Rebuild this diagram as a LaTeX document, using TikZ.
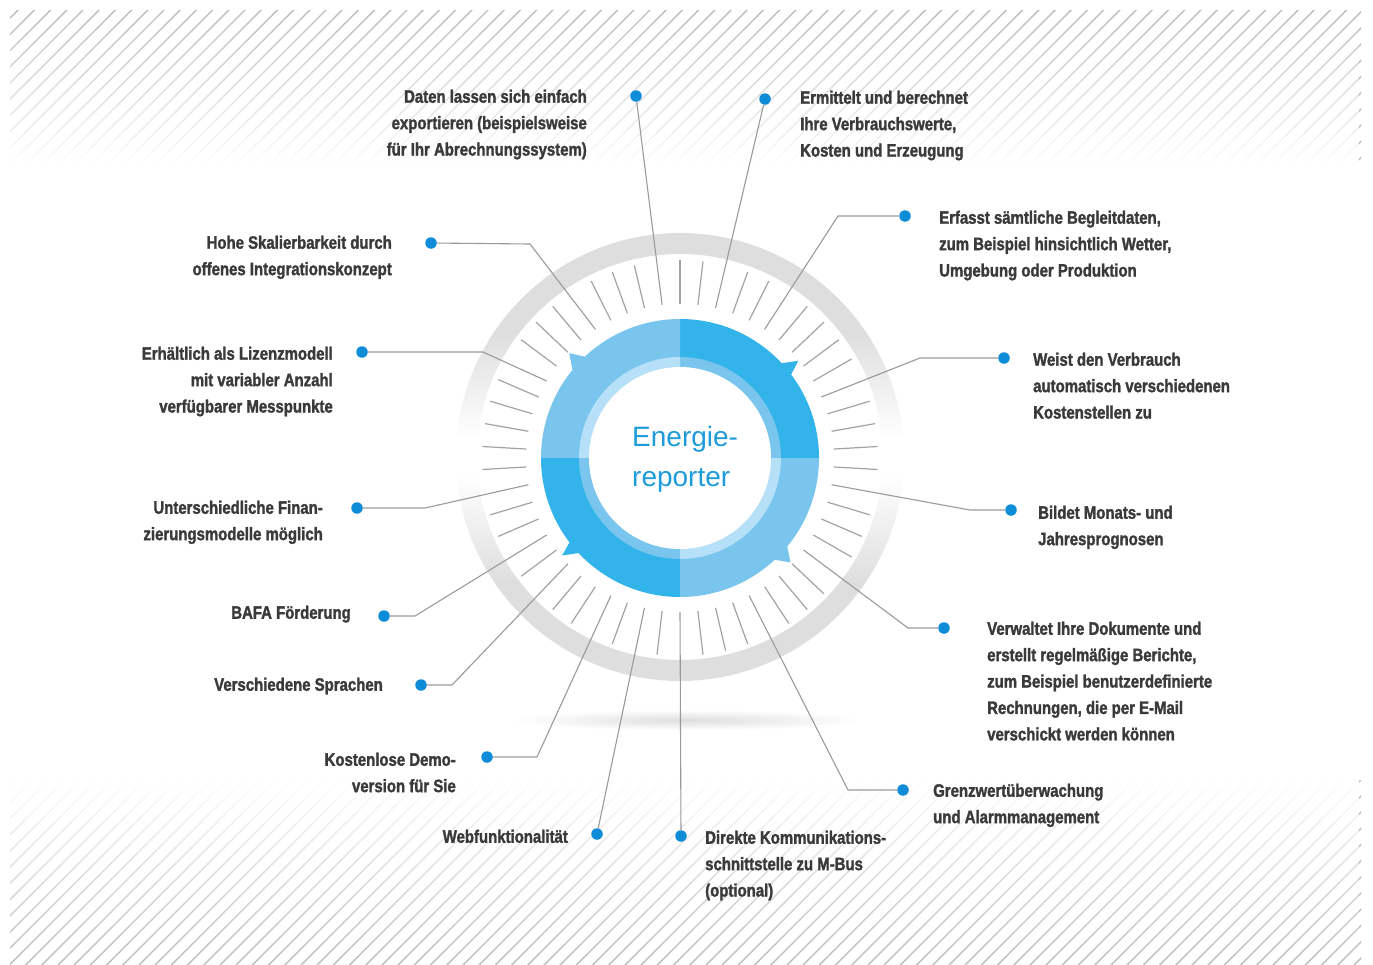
\documentclass[tikz,border=0pt]{standalone}
\usepackage{fontspec}
\usetikzlibrary{fadings}
\newfontfamily\labelfont[FakeStretch=0.83, FakeBold=1.6]{Liberation Sans}
\newfontfamily\centerfont{Liberation Sans}
\definecolor{txt}{HTML}{3A3A3A}
\definecolor{ringgrey}{HTML}{DEDEDE}
\definecolor{tickc}{HTML}{A3A3A3}
\definecolor{connc}{HTML}{9A9A9A}
\definecolor{hatchc}{HTML}{BDBDBD}
\definecolor{dotblue}{HTML}{0F8CD7}
\definecolor{bdark}{HTML}{32B3EA}
\definecolor{blight}{HTML}{79C5EE}
\definecolor{bpale}{HTML}{B5E0F7}
\definecolor{cblue}{HTML}{1E9BDB}
\tikzfading[name=fadeTopBand, top color=transparent!100, bottom color=transparent!0]
\tikzfading[name=fadeBotBand, top color=transparent!0, bottom color=transparent!100]
\pgfdeclareverticalshading{ringshade}{100bp}{color(0bp)=(ringgrey); color(36bp)=(ringgrey); color(48bp)=(white); color(52bp)=(white); color(64bp)=(ringgrey); color(100bp)=(ringgrey)}
\begin{document}
\begin{tikzpicture}[x=1pt,y=-1pt,
  hatch/.style={draw=hatchc, line width=1.4},
  tickline/.style={draw=tickc, line width=1.2},
  conn/.style={draw=connc, line width=1.1},
  dot/.style={circle, fill=dotblue, inner sep=0, minimum size=11.5},
  lblL/.style={font=\labelfont\bfseries\fontsize{18}{26.4}\selectfont, text=txt, align=right, inner sep=0, anchor=north east},
  lblR/.style={font=\labelfont\bfseries\fontsize{18}{26.4}\selectfont, text=txt, align=left, inner sep=0, anchor=north west},
  ctext/.style={font=\centerfont\fontsize{28}{40}\selectfont, text=cblue, align=left, inner sep=0, anchor=north west}]
\useasboundingbox (0,0) rectangle (1373,964);
\fill[white] (0,0) rectangle (1373,964);
% hatched bands
\begin{scope}
\clip (10,10) rectangle (1361,166);
\foreach \i in {0,...,95} \draw[hatch] ({-160+16.2*\i},172) -- ++(170,-170);
\end{scope}
\fill[white, path fading=fadeTopBand] (9,9) rectangle (1362,167);
\begin{scope}
\clip (10,780) rectangle (1361,964);
\foreach \i in {0,...,97} \draw[hatch] ({-190+16.2*\i},970) -- ++(200,-200);
\end{scope}
\fill[white, path fading=fadeBotBand] (9,779) rectangle (1362,965);
% shadow
\shade[inner color=black!13, outer color=white] (687,720) ellipse [x radius=175, y radius=10];
% ring
\begin{scope}[shift={(680,458)}, yscale=-1]
\shade[shading=ringshade, even odd rule] (0,1) circle[radius=224] (0,1) circle[radius=203];
\foreach \k in {0,1,3,4,6,7,8,9,11,12,13,14,16,17,18,20,21,22,24,25,26,28,30,32,33,35,37,38,40,41,42,43,44,46,47,48,50,51,52}
  \draw[tickline] ({90-\k*20/3}:154) -- ({90-\k*20/3}:198);
\foreach \k in {2,5,10,15,19,23,27,29,31,34,36,39,45,49,53}
  \coordinate (k\k) at ({90-\k*20/3}:154);
% blue quadrants
\fill[bdark] (0,0) -- (0:139) arc[start angle=0, end angle=90, radius=139] -- cycle;
\fill[blight] (0,0) -- (90:139) arc[start angle=90, end angle=180, radius=139] -- cycle;
\fill[bdark] (0,0) -- (180:139) arc[start angle=180, end angle=270, radius=139] -- cycle;
\fill[blight] (0,0) -- (270:139) arc[start angle=270, end angle=360, radius=139] -- cycle;
\fill[blight] (132.6:137) -- (136.6:152.5) -- (141.4:137) -- cycle;
\fill[bdark] (36.5:137) -- (39.4:153) -- (43.6:137) -- cycle;
\fill[bdark] (217:137) -- (219.6:153) -- (223.7:137) -- cycle;
\fill[blight] (-47.7:137) -- (-43.4:152) -- (-38.8:137) -- cycle;
\fill[blight] (0,0) -- (0:101) arc[start angle=0, end angle=90, radius=101] -- cycle;
\fill[bpale] (0,0) -- (90:101) arc[start angle=90, end angle=180, radius=101] -- cycle;
\fill[blight] (0,0) -- (180:101) arc[start angle=180, end angle=270, radius=101] -- cycle;
\fill[bpale] (0,0) -- (270:101) arc[start angle=270, end angle=360, radius=101] -- cycle;
\fill[white] (0,0) circle[radius=91];
\end{scope}
\node[ctext] (ctr) at (632,426) {Energie-\\reporter};
% dots and elbows
\node[dot] (dDaten) at (636,96) {};
\node[dot] (dErm) at (765,99) {};
\node[dot] (dErf) at (905,216) {}; \coordinate (eErf) at (838,216);
\node[dot] (dWeist) at (1004,358) {}; \coordinate (eWeist) at (920,358);
\node[dot] (dBild) at (1011,510) {}; \coordinate (eBild) at (970,510);
\node[dot] (dVerw) at (944,628) {}; \coordinate (eVerw) at (908,628);
\node[dot] (dGrenz) at (903,790) {}; \coordinate (eGrenz) at (848,790);
\node[dot] (dDir) at (681,836) {};
\node[dot] (dWeb) at (597,834) {};
\node[dot] (dKost) at (487,757) {}; \coordinate (eKost) at (537,757);
\node[dot] (dSpr) at (421,685) {}; \coordinate (eSpr) at (452,685);
\node[dot] (dBafa) at (384,616) {}; \coordinate (eBafa) at (415,616);
\node[dot] (dUnt) at (357,508) {}; \coordinate (eUnt) at (425,508);
\node[dot] (dLiz) at (362,352) {}; \coordinate (eLiz) at (483,352);
\node[dot] (dHohe) at (431,243) {}; \coordinate (eHohe) at (530,244);
% connectors
\draw[conn] (k53) -- (dDaten);
\draw[conn] (k2) -- (dErm);
\draw[conn] (k5) -- (eErf) -- (dErf);
\draw[conn] (k10) -- (eWeist) -- (dWeist);
\draw[conn] (k15) -- (eBild) -- (dBild);
\draw[conn] (k19) -- (eVerw) -- (dVerw);
\draw[conn] (k23) -- (eGrenz) -- (dGrenz);
\draw[conn] (k27) -- (dDir);
\draw[conn] (k29) -- (dWeb);
\draw[conn] (k31) -- (eKost) -- (dKost);
\draw[conn] (k34) -- (eSpr) -- (dSpr);
\draw[conn] (k36) -- (eBafa) -- (dBafa);
\draw[conn] (k39) -- (eUnt) -- (dUnt);
\draw[conn] (k45) -- (eLiz) -- (dLiz);
\draw[conn] (k49) -- (eHohe) -- (dHohe);
% labels
\node[lblL] (lDaten) at (587,89.5) {Daten lassen sich einfach\\exportieren (beispielsweise\\für Ihr Abrechnungssystem)};
\node[lblL] (lHohe) at (392,235.5) {Hohe Skalierbarkeit durch\\offenes Integrationskonzept};
\node[lblL] (lLiz) at (333,346.5) {Erhältlich als Lizenzmodell\\mit variabler Anzahl\\verfügbarer Messpunkte};
\node[lblL] (lUnt) at (323,500.5) {Unterschiedliche Finan-\\zierungsmodelle möglich};
\node[lblL] (lBafa) at (351,605.5) {BAFA Förderung};
\node[lblL] (lSpr) at (383,677.5) {Verschiedene Sprachen};
\node[lblL] (lKost) at (456,752.5) {Kostenlose Demo-\\version für Sie};
\node[lblL] (lWeb) at (568,829.5) {Webfunktionalität};
\node[lblR] (lDir) at (705,830.5) {Direkte Kommunikations-\\schnittstelle zu M-Bus\\(optional)};
\node[lblR] (lGrenz) at (933,783.5) {Grenzwertüberwachung\\und Alarmmanagement};
\node[lblR] (lVerw) at (987,621.5) {Verwaltet Ihre Dokumente und\\erstellt regelmäßige Berichte,\\zum Beispiel benutzerdefinierte\\Rechnungen, die per E-Mail\\verschickt werden können};
\node[lblR] (lBild) at (1038,505.5) {Bildet Monats- und\\Jahresprognosen};
\node[lblR] (lWeist) at (1033,352.5) {Weist den Verbrauch\\automatisch verschiedenen\\Kostenstellen zu};
\node[lblR] (lErf) at (939,210.5) {Erfasst sämtliche Begleitdaten,\\zum Beispiel hinsichtlich Wetter,\\Umgebung oder Produktion};
\node[lblR] (lErm) at (800,90.5) {Ermittelt und berechnet\\Ihre Verbrauchswerte,\\Kosten und Erzeugung};
\end{tikzpicture}
\end{document}
